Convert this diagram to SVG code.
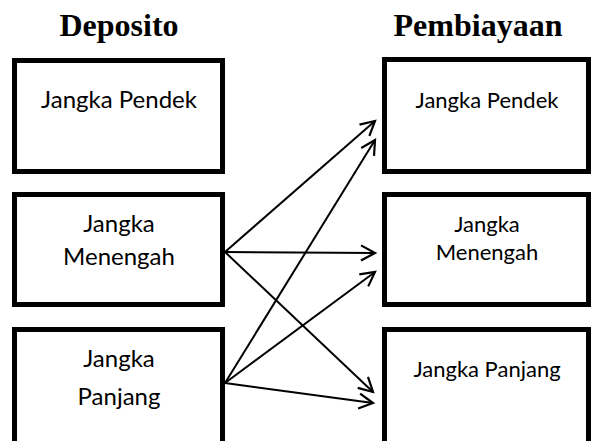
<svg xmlns="http://www.w3.org/2000/svg" width="592" height="441" viewBox="0 0 592 441">
  <style>
    .box { fill: #ffffff; stroke: #000000; stroke-width: 5; }
    .head { font-family: "Liberation Serif", "Times New Roman", serif; font-weight: bold; font-size: 32px; text-anchor: middle; fill: #000; }
    .lt { font-family: Lato, "Open Sans", sans-serif; font-size: 24px; text-anchor: middle; fill: #000; }
    .rt { font-family: Lato, "Open Sans", sans-serif; font-size: 22px; text-anchor: middle; fill: #000; }
    .conn line { stroke: #000; stroke-width: 2; fill: none; }
  </style>
  <defs>
    <marker id="arr" markerUnits="userSpaceOnUse" markerWidth="20" markerHeight="20" viewBox="-16 -10 20 20" refX="0" refY="0" orient="auto">
      <path d="M-14,-7.5 L0,0 L-14,7.5" fill="none" stroke="#000" stroke-width="2.2" stroke-linejoin="miter"/>
    </marker>
  </defs>
  <rect width="592" height="441" fill="#ffffff"/>
  <text class="head" x="119" y="36">Deposito</text>
  <text class="head" x="478" y="36">Pembiayaan</text>

  <g id="dep-pendek">
    <rect class="box" x="14.5" y="60.5" width="208" height="111"/>
    <text class="lt" x="119" y="108">Jangka Pendek</text>
  </g>
  <g id="dep-menengah">
    <rect class="box" x="14.5" y="194.5" width="208" height="110"/>
    <text class="lt" x="119" y="232">Jangka</text>
    <text class="lt" x="119" y="265">Menengah</text>
  </g>
  <g id="dep-panjang">
    <rect class="box" x="14.5" y="329.5" width="208" height="130"/>
    <text class="lt" x="119" y="367">Jangka</text>
    <text class="lt" x="119" y="405">Panjang</text>
  </g>

  <g id="pem-pendek">
    <rect class="box" x="384.5" y="59.5" width="204" height="112"/>
    <text class="rt" x="487" y="108">Jangka Pendek</text>
  </g>
  <g id="pem-menengah">
    <rect class="box" x="384.5" y="194.5" width="204" height="110"/>
    <text class="rt" x="487" y="232">Jangka</text>
    <text class="rt" x="487" y="260">Menengah</text>
  </g>
  <g id="pem-panjang">
    <rect class="box" x="384.5" y="329.5" width="204" height="130"/>
    <text class="rt" x="487" y="377">Jangka Panjang</text>
  </g>

  <g id="connectors" class="conn">
    <line x1="225" y1="252" x2="375" y2="121" marker-end="url(#arr)"/>
    <line x1="225" y1="252" x2="375" y2="253" marker-end="url(#arr)"/>
    <line x1="225" y1="252" x2="373" y2="392" marker-end="url(#arr)"/>
    <line x1="225" y1="383" x2="375" y2="140" marker-end="url(#arr)"/>
    <line x1="225" y1="383" x2="375" y2="272" marker-end="url(#arr)"/>
    <line x1="225" y1="383" x2="373" y2="403" marker-end="url(#arr)"/>
  </g>
</svg>
